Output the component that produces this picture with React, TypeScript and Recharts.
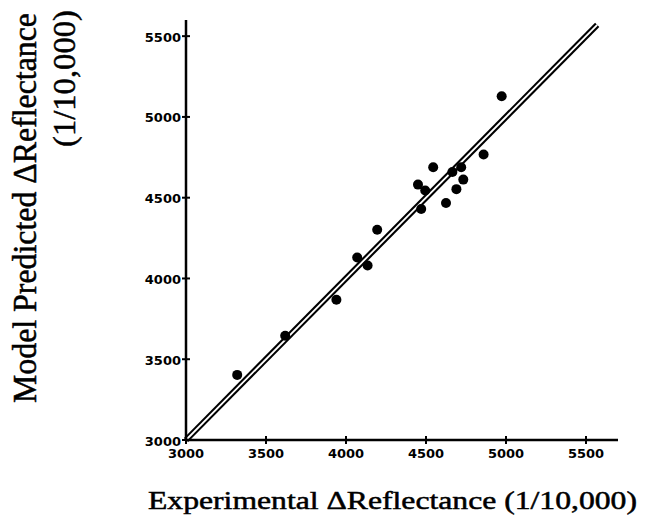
import React from 'react';
import { ScatterChart, Scatter, XAxis, YAxis, ReferenceLine } from 'recharts';

const experimental = [3320, 3620, 3940, 4070, 4135, 4195, 4450, 4470, 4495, 4545, 4625, 4665, 4720, 4690, 4733, 4860, 4973];
const predicted = [3403, 3645, 3868, 4130, 4080, 4302, 4581, 4430, 4545, 4688, 4467, 4659, 4688, 4553, 4612, 4767, 5128];
const xTicks = [3000, 3500, 4000, 4500, 5000, 5500];
const yTicks = [3000, 3500, 4000, 4500, 5000, 5500];
const fitLine = [3000, 5570];

const points = experimental.map((x, i) => ({ x, y: predicted[i] }));

const tickFont = { fontFamily: '"DejaVu Sans", sans-serif', fontWeight: 700, fontSize: 13, fill: '#000' };
const titleFont = { fontFamily: '"Liberation Serif", "Times New Roman", serif', fill: '#000', stroke: '#000', strokeWidth: 0.5 };

const XTick = (props: any) => {
  const { x, y, payload } = props;
  return (
    <g>
      <line x1={x} x2={x} y1={y - 4} y2={y + 4} stroke="#000" strokeWidth={2} />
      <text x={x} y={y + 18} textAnchor="middle" {...tickFont}>{payload.value}</text>
    </g>
  );
};

const YTick = (props: any) => {
  const { x, y, payload } = props;
  return (
    <g>
      <line x1={x - 4} x2={x + 4} y1={y} y2={y} stroke="#000" strokeWidth={2} />
      <text x={x - 5} y={y + 5.5} textAnchor="end" {...tickFont}>{payload.value}</text>
    </g>
  );
};

const XTitle = () => (
  <text x={148} y={509} fontSize={25} textLength={489} lengthAdjust="spacingAndGlyphs" {...titleFont}>
    Experimental ΔReflectance (1/10,000)
  </text>
);

const YTitle = () => (
  <g>
    <text transform="translate(36, 403) rotate(-90)" fontSize={33} textLength={390} lengthAdjust="spacingAndGlyphs" {...titleFont}>
      Model Predicted ΔReflectance
    </text>
    <text transform="translate(75, 147) rotate(-90)" fontSize={32} textLength={137} lengthAdjust="spacingAndGlyphs" {...titleFont}>
      (1/10,000)
    </text>
  </g>
);

const Dot = (props: any) => <circle cx={props.cx} cy={props.cy} r={5} fill="#000" />;

export default function App() {
  return (
    <div style={{ position: 'absolute', left: 0, top: 0, background: '#fff' }}>
      <ScatterChart width={645} height={522} margin={{ top: 20, right: 27, left: 126, bottom: 52 }}>
        <XAxis
          type="number"
          dataKey="x"
          domain={[3000, 5700]}
          ticks={xTicks}
          allowDataOverflow
          height={30}
          tickSize={0}
          tickMargin={0}
          tickLine={false}
          tick={<XTick />}
          axisLine={{ stroke: '#000', strokeWidth: 2.5 }}
          label={<XTitle />}
        />
        <YAxis
          type="number"
          dataKey="y"
          domain={[3000, 5600]}
          ticks={yTicks}
          allowDataOverflow
          width={60}
          tickSize={0}
          tickMargin={0}
          tickLine={false}
          tick={<YTick />}
          axisLine={{ stroke: '#000', strokeWidth: 2.5 }}
          label={<YTitle />}
        />
        <ReferenceLine
          segment={[{ x: fitLine[0], y: fitLine[0] }, { x: fitLine[1], y: fitLine[1] }]}
          stroke="#000"
          strokeWidth={6}
        />
        <ReferenceLine
          segment={[{ x: fitLine[0], y: fitLine[0] }, { x: fitLine[1], y: fitLine[1] }]}
          stroke="#fff"
          strokeWidth={1.8}
        />
        <Scatter data={points} shape={<Dot />} isAnimationActive={false} />
      </ScatterChart>
    </div>
  );
}
